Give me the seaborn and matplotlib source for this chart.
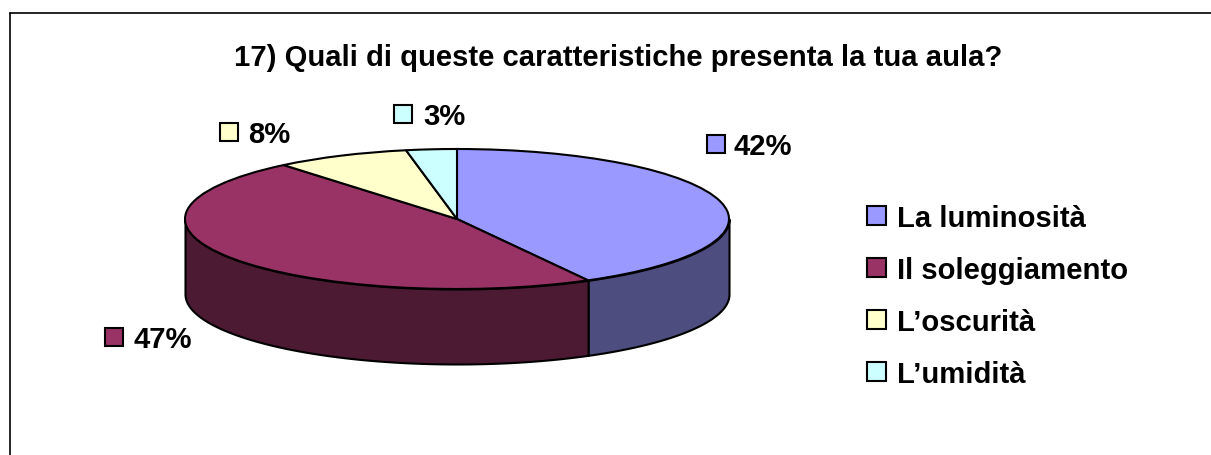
import numpy as np
import seaborn as sns
import matplotlib.pyplot as plt
from matplotlib.lines import Line2D
from matplotlib.patches import Rectangle

# Data
categories = ["La luminosità", "Il soleggiamento", "L’oscurità", "L’umidità"]
values = [42, 47, 8, 3]
title = "17) Quali di queste caratteristiche presenta la tua aula?"

# Colours
top_colors = sns.color_palette(["#9999FF", "#993366", "#FFFFCC", "#CCFFFF"])
side_colors = sns.color_palette(["#4D4D80", "#4D1A33", "#808066", "#668080"])

# Layout in pixels of the 1211x456 picture
W, H = 1211, 456
cx, cy, rx, ry = 457, 220, 272, 70
depth = 75 / ry
label_pos = [(716, 145, 734), (114, 338, 133), (229, 133, 248), (403, 115, 423)]
lw = 1.5

sns.set_theme(style="white")
plt.rcParams["font.family"] = ["Liberation Sans", "DejaVu Sans"]
plt.rcParams["font.weight"] = "bold"


def fx(px):
    return px / W


def fy(py):
    return 1 - py / H


fig = plt.figure(figsize=(W / 100, H / 100), dpi=100)
ax = fig.add_axes([0, 0, 1, 1])

# Side walls first, only the front half of the disc is visible
edges = 90 - 360 * np.cumsum([0] + values) / sum(values)
for i in range(len(values)):
    start, end = edges[i], edges[i + 1]
    low, high = max(end, -180), min(start, 0)
    if low >= high:
        continue
    t = np.radians(np.linspace(high, low, 100))
    ax.fill_between(np.cos(t), np.sin(t), np.sin(t) - depth, color=side_colors[i],
                    edgecolor="black", linewidth=lw, zorder=1)

# Top of the disc, the axes limits squash it into an ellipse
ax.pie(values, colors=top_colors, startangle=90, counterclock=False, radius=1,
       wedgeprops={"edgecolor": "black", "linewidth": lw, "zorder": 2})
ax.set_aspect("auto")
ax.set_xlim((0 - cx) / rx, (W - cx) / rx)
ax.set_ylim((cy - H) / ry, cy / ry)
ax.set_axis_off()

# Outer frame of the chart, the picture cuts it off right and below
fig.add_artist(Line2D([fx(9.5), fx(9.5)], [0, fy(14)], color="black", linewidth=1.2))
fig.add_artist(Line2D([fx(9.5), 1], [fy(14), fy(14)], color="black", linewidth=1.2))

fig.text(fx(618), fy(58.5), title, ha="center", va="center", fontsize=21.1, fontweight="bold", color="black")

# Data labels with their little colour key
for v, c, (sq_x, y, tx) in zip(values, top_colors, label_pos):
    fig.add_artist(Line2D([fx(sq_x)], [fy(y)], marker="s", markersize=12.5, markerfacecolor=c,
                          markeredgecolor="black", markeredgewidth=lw, linestyle="none",
                          transform=fig.transFigure))
    fig.text(fx(tx), fy(y + 2), f"{v}%", ha="left", va="center", fontsize=21.1, fontweight="bold", color="black")

# Legend
handles = [Rectangle((0, 0), 1, 1, facecolor=c, edgecolor="black", linewidth=lw) for c in top_colors]
fig.legend(handles, categories, loc="upper left", bbox_to_anchor=(fx(858), fy(196)), frameon=False,
           fontsize=21.1, handlelength=0.65, handleheight=0.65, handletextpad=0.37,
           labelspacing=0.82, labelcolor="black", borderpad=0.3, borderaxespad=0)

fig.savefig("out.png", dpi=100)
